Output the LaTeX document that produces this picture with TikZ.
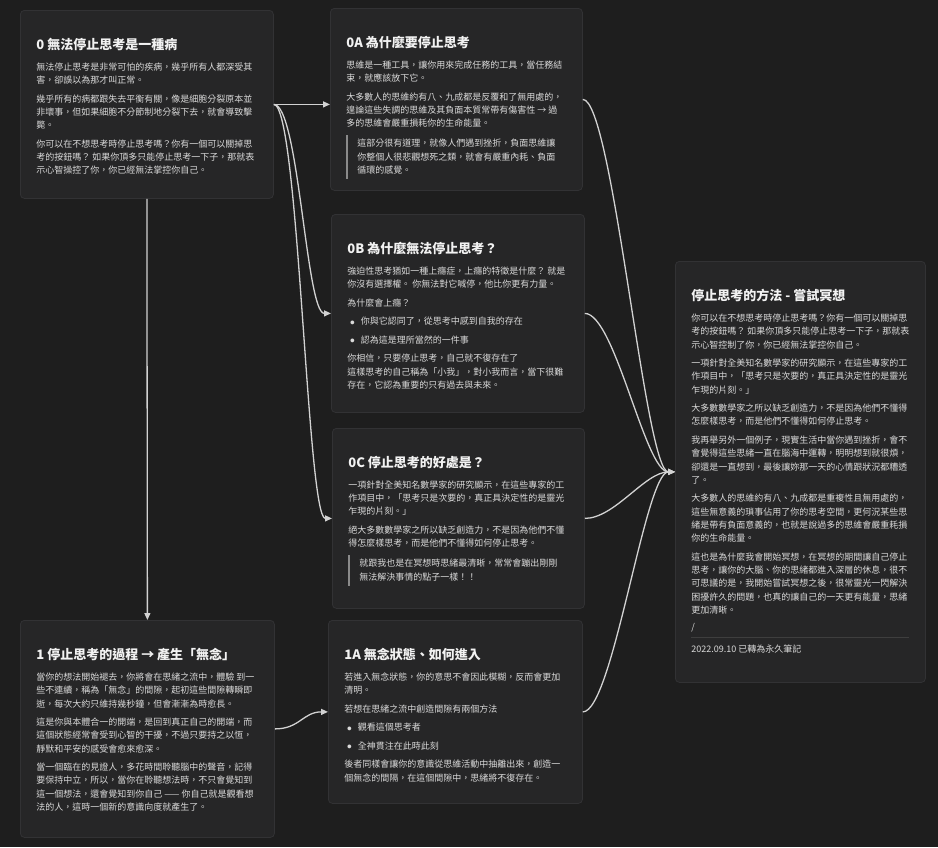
\documentclass[tikz,border=0pt]{standalone}
\usepackage{fontspec}
\setmainfont{Noto Sans CJK TC}
\usepackage{xcolor}
\usetikzlibrary{arrows.meta}

\definecolor{canvasbg}{HTML}{1E1E1E}
\definecolor{cardbg}{HTML}{262627}
\definecolor{cardline}{HTML}{323234}
\definecolor{bodytext}{HTML}{DADADA}
\definecolor{headtext}{HTML}{F2F2F2}
\definecolor{edgecol}{HTML}{D2D2D2}
\definecolor{quotebar}{HTML}{8A8A8A}
\definecolor{sepline}{HTML}{3E3E3E}

\newcommand{\cardtext}[3]{\parbox[t][#2][t]{#1}{\fontsize{9}{13.3}\selectfont\setlength{\parskip}{5.2pt}\vspace*{23pt}#3}}
\newcommand{\cardhead}[1]{{\fontsize{13}{16}\selectfont\bfseries\color{headtext}#1\par}\vspace{2pt}}
\newcommand{\bulletline}[1]{\hspace*{5pt}\makebox[0pt]{\raisebox{0.4pt}{\fontsize{4.2}{5}\selectfont ●}}\hspace{8.5pt}#1\par}
\newcommand{\quoteblock}[1]{\vspace{1.5pt}\noindent{\color{quotebar}\vrule width 1.6pt}\hspace{9.4pt}\parbox[t]{205pt}{\fontsize{9}{13.3}\selectfont\rule{0pt}{12pt}#1\rule[-5.5pt]{0pt}{5.5pt}}\par}

\begin{document}
\begin{tikzpicture}[x=1pt, y=-1pt,
    card/.style={draw=cardline, fill=cardbg, rounded corners=4pt, line width=0.8pt,
      inner xsep=16pt, inner ysep=0pt, anchor=north west, text=bodytext},
    link/.style={draw=edgecol, line width=1.3pt, -{Triangle[length=7pt,width=6pt]}}]

    % canvas
    \fill[canvasbg] (0,0) rectangle (938,847);

    % left column
    \node[card] (n0) at (20,10) {\cardtext{221pt}{188pt}{%
    \cardhead{0 無法停止思考是一種病}
    無法停止思考是非常可怕的疾病，幾乎所有人都深受其\\
    害，卻誤以為那才叫正常。\par
    幾乎所有的病都跟失去平衡有關，像是細胞分裂原本並\\
    非壞事，但如果細胞不分節制地分裂下去，就會導致擊\\
    斃。\par
    你可以在不想思考時停止思考嗎？你有一個可以關掉思\\
    考的按鈕嗎？ 如果你頂多只能停止思考一下子，那就表\\
    示心智操控了你，你已經無法掌控你自己。\par}};

    \node[card] (n1) at (20,620) {\cardtext{222pt}{217pt}{%
    \cardhead{1 停止思考的過程 → 產生「無念」}
    當你的想法開始褪去，你將會在思緒之流中，體驗 到一\\
    些不連續，稱為「無念」的間隙，起初這些間隙轉瞬即\\
    逝，每次大約只維持幾秒鐘，但會漸漸為時愈長。\par
    這是你與本體合一的開端，是回到真正自己的開端，而\\
    這個狀態經常會受到心智的干擾，不過只要持之以恆，\\
    靜默和平安的感受會愈來愈深。\par
    當一個臨在的見證人，多花時間聆聽腦中的聲音，記得\\
    要保持中立，所以，當你在聆聽想法時，不只會覺知到\\
    這一個想法，還會覺知到你自己 —— 你自己就是觀看想\\
    法的人，這時一個新的意識向度就產生了。\par}};

    % middle column
    \node[card] (n0a) at (330,8) {\cardtext{220pt}{182pt}{%
    \cardhead{0A 為什麼要停止思考}
    思維是一種工具，讓你用來完成任務的工具，當任務結\\
    束，就應該放下它。\par
    大多數人的思維約有八、九成都是反覆和了無用處的，\\
    遑論這些失調的思維及其負面本質常帶有傷害性 → 過\\
    多的思維會嚴重損耗你的生命能量。\par
    \quoteblock{這部分很有道理，就像人們遇到挫折，負面思維讓\\
    你整個人很悲觀想死之類，就會有嚴重內耗、負面\\
    循環的感覺。}}};

    \node[card] (n0b) at (331,214) {\cardtext{221pt}{198pt}{%
    \cardhead{0B 為什麼無法停止思考？}
    強迫性思考猶如一種上癮症，上癮的特徵是什麼？ 就是\\
    你沒有選擇權。 你無法對它喊停，他比你更有力量。\par
    為什麼會上癮？\par
    \bulletline{你與它認同了，從思考中感到自我的存在}
    \bulletline{認為這是理所當然的一件事}
    你相信，只要停止思考，自己就不復存在了\\
    這樣思考的自己稱為「小我」，對小我而言，當下很難\\
    存在，它認為重要的只有過去與未來。\par}};

    \node[card] (n0c) at (332,428) {\cardtext{220pt}{180pt}{%
    \cardhead{0C 停止思考的好處是？}
    一項針對全美知名數學家的研究顯示，在這些專家的工\\
    作項目中，「思考只是次要的，真正具決定性的是靈光\\
    乍現的片刻。」\par
    絕大多數數學家之所以缺乏創造力，不是因為他們不懂\\
    得怎麼樣思考，而是他們不懂得如何停止思考。\par
    \quoteblock{就跟我也是在冥想時思緒最清晰，常常會蹦出剛剛\\
    無法解決事情的點子一樣！！}}};

    \node[card] (n1a) at (328,620) {\cardtext{222pt}{183pt}{%
    \cardhead{1A 無念狀態、如何進入}
    若進入無念狀態，你的意思不會因此模糊，反而會更加\\
    清明。\par
    若想在思緒之流中創造間隙有兩個方法\par
    \bulletline{觀看這個思考者}
    \bulletline{全神貫注在此時此刻}
    後者同樣會讓你的意識從思維活動中抽離出來，創造一\\
    個無念的間隔，在這個間隙中，思緒將不復存在。\par}};

    % summary note
    \node[card] (method) at (675,261) {\cardtext{218pt}{421pt}{%
    \cardhead{停止思考的方法 - 嘗試冥想}
    你可以在不想思考時停止思考嗎？你有一個可以關掉思\\
    考的按鈕嗎？ 如果你頂多只能停止思考一下子，那就表\\
    示心智控制了你，你已經無法掌控你自己。\par
    一項針對全美知名數學家的研究顯示，在這些專家的工\\
    作項目中，「思考只是次要的，真正具決定性的是靈光\\
    乍現的片刻。」\par
    大多數數學家之所以缺乏創造力，不是因為他們不懂得\\
    怎麼樣思考，而是他們不懂得如何停止思考。\par
    我再舉另外一個例子，現實生活中當你遇到挫折，會不\\
    會覺得這些思緒一直在腦海中運轉，明明想到就很煩，\\
    卻還是一直想到，最後讓妳那一天的心情跟狀況都糟透\\
    了。\par
    大多數人的思維約有八、九成都是重複性且無用處的，\\
    這些無意義的瑣事佔用了你的思考空間，更何況某些思\\
    緒是帶有負面意義的，也就是說過多的思維會嚴重耗損\\
    你的生命能量。\par
    這也是為什麼我會開始冥想，在冥想的期間讓自己停止\\
    思考，讓你的大腦、你的思緒都進入深層的休息，很不\\
    可思議的是，我開始嘗試冥想之後，很常靈光一閃解決\\
    困擾許久的問題，也真的讓自己的一天更有能量，思緒\\
    更加清晰。\par
    \vspace{-1.5pt}/\par
    \vspace{5pt}{\color{sepline}\hrule height 0.8pt}\vspace{2pt}
    2022.09.10 已轉為永久筆記\par}};

    % links
    \draw[link] (n0.east) -- (n0a.west |- n0.east);
    \draw[link] (n0.east) .. controls +(25,0) and +(-25,0) .. (n0b.west);
    \draw[link] (n0.east) .. controls +(25,0) and +(-25,0) .. (n0c.west);
    \draw[link] (n0.south) -- (n1.north);
    \draw[link] (n1.east) .. controls +(25,0) and +(-25,0) .. (n1a.west);
    \foreach \src in {n0a, n0b, n0c, n1a} {
      \draw[link] (\src.east) .. controls +(30,0) and +(-30,0) .. (method.west);
    }

\end{tikzpicture}
\end{document}
